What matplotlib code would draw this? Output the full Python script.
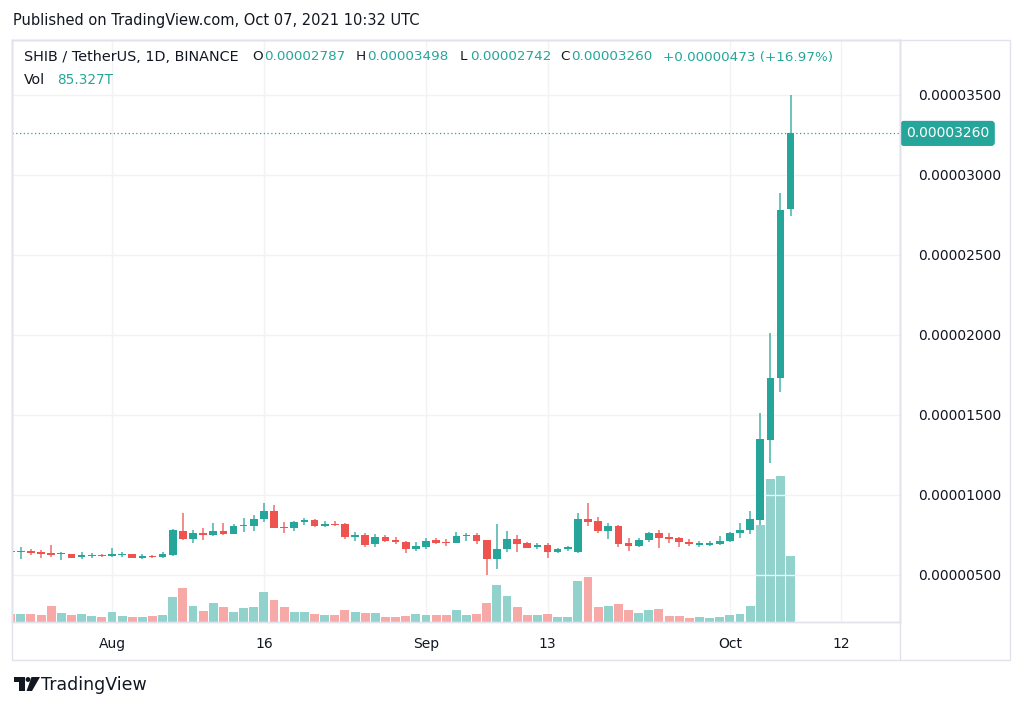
import matplotlib
matplotlib.use("Agg")
import matplotlib.pyplot as plt
import matplotlib.patches as mpatches
import matplotlib.transforms as mtransforms
import pandas as pd

# SHIB/USDT daily candles, prices in millionths of a USDT (1e-6)
dates = pd.date_range("2021-07-22", "2021-10-07", freq="D")
opens = [6.50, 6.42, 6.52, 6.44, 6.40, 6.29, 6.29, 6.15, 6.19, 6.25,
         6.19, 6.23, 6.29, 6.08, 6.21, 6.13, 6.25, 7.77, 7.23, 7.65,
         7.50, 7.77, 7.56, 8.08, 8.08, 8.50, 9.00, 8.02, 7.96, 8.29,
         8.44, 8.06, 8.19, 8.17, 7.40, 7.48, 6.94, 7.40, 7.19, 7.08,
         6.60, 6.77, 7.19, 7.08, 6.98, 7.44, 7.50, 7.19, 5.98, 6.63,
         7.25, 6.98, 6.73, 6.88, 6.42, 6.60, 6.46, 8.50, 8.38, 7.77,
         8.06, 6.98, 6.81, 7.19, 7.60, 7.40, 7.29, 7.08, 6.90, 6.90,
         6.94, 7.15, 7.60, 7.81, 8.44, 13.44, 17.29, 27.87]
highs = [6.55, 6.73, 6.60, 6.56, 6.87, 6.46, 6.33, 6.46, 6.40, 6.29,
         6.67, 6.46, 6.33, 6.29, 6.25, 6.44, 7.88, 8.85, 7.81, 7.92,
         8.27, 8.23, 8.17, 8.54, 8.75, 9.48, 9.38, 8.29, 8.38, 8.54,
         8.48, 8.38, 8.40, 8.23, 7.67, 7.60, 7.56, 7.48, 7.35, 7.13,
         7.08, 7.29, 7.29, 7.23, 7.67, 7.60, 7.60, 7.19, 8.19, 7.77,
         7.50, 7.04, 6.98, 6.98, 6.71, 6.83, 8.85, 9.48, 8.60, 8.23,
         8.13, 7.29, 7.29, 7.67, 7.81, 7.60, 7.40, 7.23, 7.13, 7.15,
         7.44, 7.71, 8.23, 9.00, 15.10, 20.10, 28.90, 34.98]
lows = [6.38, 6.00, 6.27, 6.08, 6.15, 5.94, 6.04, 6.00, 6.04, 6.15,
        6.15, 6.13, 6.04, 6.02, 6.04, 6.04, 6.21, 7.19, 6.98, 7.19,
        7.44, 7.48, 7.54, 7.71, 7.77, 8.29, 7.92, 7.65, 7.77, 8.13,
        8.02, 7.98, 8.06, 7.23, 7.13, 6.77, 6.77, 7.06, 6.94, 6.40,
        6.52, 6.60, 6.92, 6.83, 6.98, 7.15, 6.94, 5.00, 5.35, 6.46,
        6.46, 6.67, 6.60, 6.08, 6.35, 6.50, 6.40, 8.06, 7.65, 7.25,
        6.73, 6.52, 6.77, 7.08, 6.67, 7.02, 6.77, 6.81, 6.77, 6.81,
        6.88, 7.08, 7.33, 7.54, 8.13, 12.02, 16.46, 27.42]
closes = [6.42, 6.52, 6.38, 6.33, 6.25, 6.35, 6.08, 6.25, 6.23, 6.19,
          6.31, 6.31, 6.08, 6.21, 6.15, 6.31, 7.81, 7.23, 7.60, 7.50,
          7.77, 7.56, 8.08, 8.13, 8.50, 9.00, 7.96, 7.92, 8.33, 8.44,
          8.06, 8.17, 8.10, 7.40, 7.48, 6.88, 7.40, 7.15, 7.04, 6.60,
          6.81, 7.15, 6.98, 6.98, 7.44, 7.50, 7.15, 5.98, 6.63, 7.25,
          6.94, 6.71, 6.88, 6.42, 6.63, 6.73, 8.50, 8.33, 7.77, 8.06,
          6.94, 6.83, 7.19, 7.60, 7.29, 7.27, 7.04, 6.92, 7.02, 7.00,
          7.15, 7.65, 7.81, 8.48, 13.48, 17.33, 27.81, 32.60]
# volume in trillions of SHIB
volumes = [10.0, 10.3, 10.3, 9.1, 21.1, 11.6, 9.1, 10.3, 8.1, 6.9,
           12.5, 8.1, 6.9, 6.9, 8.1, 9.1, 32.7, 44.4, 21.1, 14.2,
           24.2, 19.0, 12.5, 18.5, 19.8, 38.4, 28.4, 19.8, 12.5, 12.5,
           10.3, 9.1, 9.1, 15.5, 12.5, 11.6, 11.6, 6.9, 6.9, 8.1,
           10.3, 9.1, 9.1, 9.1, 15.5, 9.1, 10.3, 24.2, 47.8, 33.6,
           19.0, 9.1, 9.1, 10.3, 6.9, 6.9, 53.0, 58.6, 19.0, 21.1,
           23.3, 15.5, 11.0, 15.5, 16.8, 8.1, 8.1, 5.6, 6.9, 5.6,
           6.9, 9.1, 10.3, 20.7, 125.4, 184.5, 189.2, 85.327]

price_ticks = [5, 10, 15, 20, 25, 30, 35]
time_ticks = ["2021-08-01", "2021-08-16", "2021-09-01", "2021-09-13", "2021-10-01", "2021-10-12"]
time_labels = ["Aug", "16", "Sep", "13", "Oct", "12"]

SCALE = 1e-6
UP = "#26a69a"
DOWN = "#ef5350"
UP_VOL = "#92d2cc"
DOWN_VOL = "#f7a9a7"
TEXT = "#131722"
LINE = "#e0e3eb"
GRID = "#f1f2f4"

plt.rcParams["font.family"] = ["DejaVu Sans"]

W, H = 1024, 708
fig = plt.figure(figsize=(W / 100, H / 100), dpi=100)


def fx(x):
    return x / W


def fy(y):
    return 1 - y / H


# outer frame of the chart widget
fig.patches.append(mpatches.Rectangle((fx(12), fy(660)), fx(1010) - fx(12), fy(40) - fy(660),
                                      transform=fig.transFigure, fill=False, edgecolor=LINE, lw=1))
fig.add_artist(plt.Line2D([fx(900), fx(900)], [fy(660), fy(40)], color=LINE, lw=1))

ax_vol = fig.add_axes([fx(12), fy(622), fx(900) - fx(12), fy(40) - fy(622)])
ax = ax_vol.twinx()
ax.patch.set_visible(False)

x = list(range(len(dates)))
start = dates[0]
day_idx = [(pd.Timestamp(d) - start).days for d in time_ticks]

# volume
vol_colors = [UP_VOL if c >= o else DOWN_VOL for o, c in zip(opens, closes)]
ax_vol.bar(x, volumes, width=0.88, color=vol_colors, zorder=2)
ax_vol.set_ylim(0, 752)
ax_vol.set_yticks([])
ax_vol.set_xlim(0.13, 87.8)
ax_vol.set_xticks(day_idx)
ax_vol.set_xticklabels(time_labels)
ax_vol.tick_params(axis="x", length=0, pad=11, labelsize=10, labelcolor=TEXT)
ax_vol.grid(axis="x", color=GRID, lw=1, zorder=0)
ax_vol.set_axisbelow(True)

# candles
for i in x:
    o, h, l, c = opens[i], highs[i], lows[i], closes[i]
    col = UP if c >= o else DOWN
    ax.vlines(i, l * SCALE, h * SCALE, color=col, lw=1.1, alpha=0.85, zorder=3)
    body = max(abs(c - o), 0.05)
    ax.bar(i, body * SCALE, bottom=min(o, c) * SCALE, width=0.76, color=col, zorder=4)

ax.set_ylim(2.0625 * SCALE, 38.4375 * SCALE)
ax.set_yticks([t * SCALE for t in price_ticks])
ax.set_yticklabels(["%.8f" % (t * SCALE) for t in price_ticks])
ax.tick_params(axis="y", length=0, pad=13, labelsize=10, labelcolor=TEXT)
ax.grid(axis="y", color=GRID, lw=1, zorder=0)
ax.set_axisbelow(True)

for a in (ax, ax_vol):
    for s in a.spines.values():
        s.set_color(LINE)
        s.set_linewidth(1)

# last price line and label
last = closes[-1] * SCALE
ax.axhline(last, color=UP, lw=0.9, ls=(0, (1, 2)), zorder=1)
trans = mtransforms.blended_transform_factory(ax.transAxes, ax.transData)
ax.text(1.0 + 6 / 888, last, "%.8f" % last, transform=trans, ha="left", va="center",
        fontsize=10, color="white", zorder=10, clip_on=False,
        bbox=dict(boxstyle="round,pad=0.35,rounding_size=0.2", fc=UP, ec=UP))

# header and legend
fig.text(fx(13), fy(20), "Published on TradingView.com, Oct 07, 2021 10:32 UTC",
         fontsize=10.5, color=TEXT, va="center")
legend_y = fy(57)
fig.text(fx(24), legend_y, "SHIB / TetherUS, 1D, BINANCE", fontsize=10.4, color=TEXT, va="center")
parts = [(252, "O", TEXT), (264, "0.00002787", UP), (356, "H", TEXT), (367, "0.00003498", UP),
         (460, "L", TEXT), (470, "0.00002742", UP), (560, "C", TEXT), (571, "0.00003260", UP),
         (663, "+0.00000473 (+16.97%)", UP)]
for px, s, col in parts:
    fig.text(fx(px), legend_y, s, fontsize=9.7, color=col, va="center")
fig.text(fx(24), fy(80), "Vol", fontsize=10.2, color=TEXT, va="center")
fig.text(fx(57), fy(80), "85.327T", fontsize=9.8, color=UP, va="center")

# TradingView logo
logo = [
    mpatches.Polygon([(13.5, 677), (25, 677), (25, 691), (19, 691), (19, 681.5), (13.5, 681.5)], closed=True),
    mpatches.Circle((28, 679.5), 2.4),
    mpatches.Polygon([(31.5, 677), (40, 677), (32, 691), (26.5, 691)], closed=True),
]
for p in logo:
    verts = p.get_path().vertices
    tr = p.get_patch_transform()
    pts = tr.transform(verts)
    pts = [(fx(px), fy(py)) for px, py in pts]
    fig.patches.append(mpatches.Polygon(pts, closed=True, transform=fig.transFigure,
                                        fc=TEXT, ec="none"))
fig.text(fx(41), fy(685), "TradingView", fontsize=12.5, color=TEXT, va="center")

fig.savefig("out.png", dpi=100, facecolor="white")
